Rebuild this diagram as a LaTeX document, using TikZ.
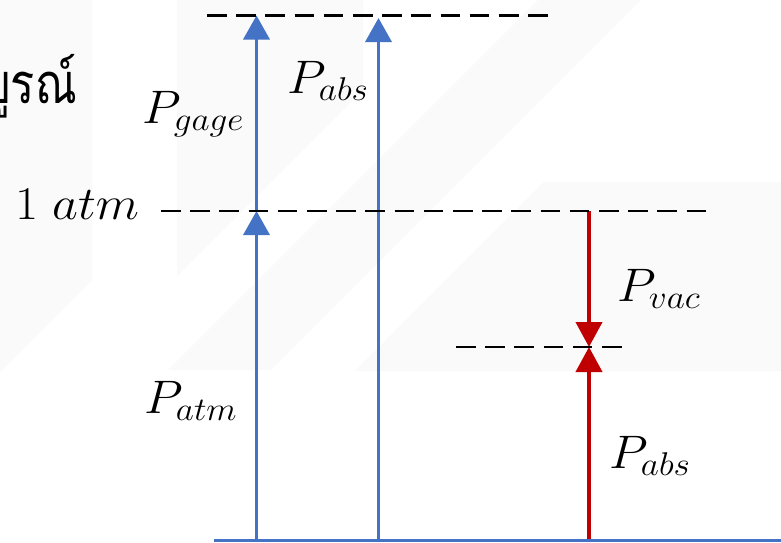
\RequirePackage{fix-cm}
\documentclass[tikz,border=0pt]{standalone}
\usepackage{fontspec}
\usepackage{graphicx}
\newfontfamily\thaifont[Script=Thai]{Loma}
\usetikzlibrary{arrows.meta}
\definecolor{myblue}{HTML}{4472C4}
\definecolor{myred}{HTML}{C00000}
\definecolor{wmgray}{RGB}{250,250,250}
\newcommand{\wlbl}[1]{\scalebox{1.07}[1]{#1}}
\tikzset{
  bluearrow/.style={draw=myblue, line width=3.6pt, -{Triangle[width=26pt,length=24pt]}},
  redarrow/.style={draw=myred, line width=4pt, -{Triangle[width=26pt,length=25pt]}},
  baseline/.style={draw=myblue, line width=3pt},
  levelline/.style={draw=black, line width=2.8pt, dash pattern=on 19.5pt off 9.7pt},
  lbl/.style={inner sep=0pt, anchor=base west, font=\fontsize{47}{56}\selectfont},
  watermark/.style={fill=wmgray, draw=none}
}
\begin{document}
\begin{tikzpicture}[x=1pt,y=-1pt]
\useasboundingbox (0,0) rectangle (781,542);
\fill[white] (0,0) rectangle (781,542);
% faint watermark shapes
\fill[watermark] (0,0) -- (92,0) -- (92,280) -- (0,372) -- cycle;
\fill[watermark] (177,0) -- (363,0) -- (363,90) -- (177,276) -- cycle;
\fill[watermark] (538,0) -- (641,0) -- (271,370) -- (168,370) -- cycle;
\fill[watermark] (544,182) -- (781,182) -- (781,371) -- (355,371) -- cycle;
% Thai word (partly outside the picture, as in the reference)
\begin{scope}
\clip (0,0) rectangle (781,542);
\node[inner sep=0pt, anchor=base east, font=\thaifont\fontsize{50}{60}\selectfont] (thai) at (77,103) {\scalebox{0.9}[1.12]{สัมบูรณ์}};
\end{scope}
% coordinates
\coordinate (base0) at (214,540.5);
\coordinate (base1) at (781,540.5);
\coordinate (a1b) at (256.5,540.5);
\coordinate (a1m) at (256.5,211);
\coordinate (a1t) at (256.5,15.5);
\coordinate (a2b) at (378.5,540.5);
\coordinate (a2t) at (378.5,18);
\coordinate (rb) at (589,540.5);
\coordinate (rm) at (589,347);
\coordinate (rt) at (589,211);
\coordinate (top0) at (207,15.5);
\coordinate (top1) at (551,15.5);
\coordinate (atm0) at (161,211);
\coordinate (atm1) at (711,211);
\coordinate (vac0) at (456,347);
\coordinate (vac1) at (625,347);
% arrows
\draw[bluearrow] (a1b) -- (a1m);
\draw[bluearrow] (a1m) -- (a1t);
\draw[bluearrow] (a2b) -- (a2t);
\draw[redarrow] (rt) -- (rm);
\draw[redarrow] (rb) -- (rm);
\draw[baseline] (base0) -- (base1);
% level lines
\draw[levelline] (top0) -- (top1);
\draw[levelline] (atm0) -- (atm1);
\draw[levelline] (vac0) -- (vac1);
% labels
\node[lbl] (pgage) at (142,123) {\wlbl{$P_{gage}$}};
\node[lbl] (pabs1) at (287,93) {\wlbl{$P_{abs}$}};
\node[lbl] (atm) at (15,219) {\wlbl{$1\;atm$}};
\node[lbl] (pvac) at (617,301) {\wlbl{$P_{vac}$}};
\node[lbl] (patm) at (144,413) {\wlbl{$P_{atm}$}};
\node[lbl] (pabs2) at (609,468) {\wlbl{$P_{abs}$}};
\end{tikzpicture}
\end{document}
